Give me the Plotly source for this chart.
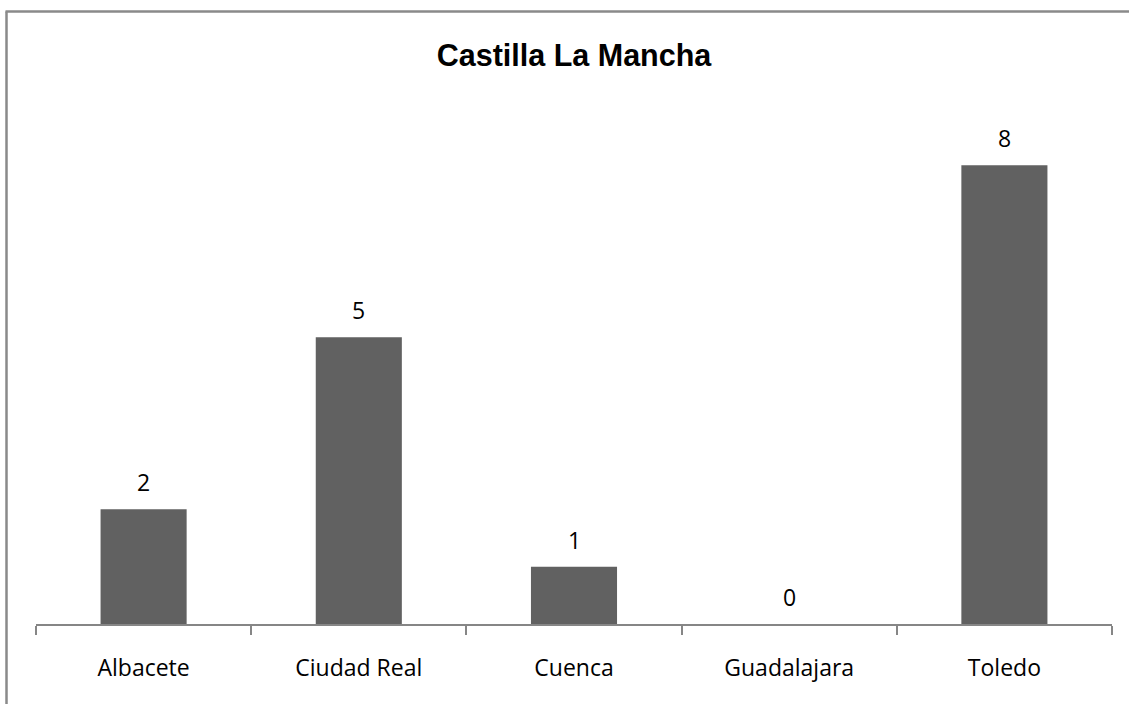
import plotly.graph_objects as go

categories = ["Albacete", "Ciudad Real", "Cuenca", "Guadalajara", "Toledo"]
values = [2, 5, 1, 0, 8]
title_text = "Castilla La Mancha"

W, H = 1129, 704
L, R, T, B = 36, 17, 108, 80
bar_color = "#616161"
line_color = "#868686"
label_font = dict(family="Open Sans, Lato, sans-serif", size=23, color="#000000")

fig = go.Figure()
fig.add_trace(go.Bar(
    x=categories, y=values,
    marker=dict(color=bar_color, line=dict(width=0)),
    width=0.4,
    hoverinfo="skip",
))

for c, v in zip(categories, values):
    fig.add_annotation(x=c, y=v, text=str(v), showarrow=False,
                       yshift=27, font=label_font, xref="x", yref="y")

fig.update_layout(
    width=W, height=H,
    margin=dict(l=L, r=R, t=T, b=B),
    paper_bgcolor="white", plot_bgcolor="white",
    showlegend=False,
    bargap=0.6,
    title=dict(text=title_text, x=(L + (W - L - R) / 2) / W, xanchor="center",
               y=1 - 55 / H, yanchor="middle",
               font=dict(family="Liberation Sans, Arial, sans-serif",
                         size=30.5, color="#000000", weight="bold")),
    xaxis=dict(showline=True, linecolor=line_color, linewidth=2,
               ticks="outside", tickson="boundaries", ticklen=9,
               tickcolor=line_color, tickwidth=2,
               ticklabelstandoff=22,
               showgrid=False, zeroline=False,
               tickfont=label_font, fixedrange=True),
    yaxis=dict(range=[0, 9], visible=False, showgrid=False, zeroline=False,
               fixedrange=True),
)

pw = W - L - R
ph = H - T - B
def px_x(p):
    return (p - L) / pw
def px_y(p):
    return (H - B - p) / ph

# chart-area border (left and top edges visible)
fig.add_shape(type="line", xref="paper", yref="paper",
              x0=px_x(6.5), x1=px_x(6.5), y0=px_y(H + 5), y1=px_y(11.5),
              line=dict(color="#8a8a8a", width=2.5))
fig.add_shape(type="line", xref="paper", yref="paper",
              x0=px_x(5.5), x1=px_x(W + 5), y0=px_y(11.5), y1=px_y(11.5),
              line=dict(color="#8a8a8a", width=2.5))

fig.write_html("out.html", config={"displayModeBar": False},
               post_script="document.body.style.margin='0';")
